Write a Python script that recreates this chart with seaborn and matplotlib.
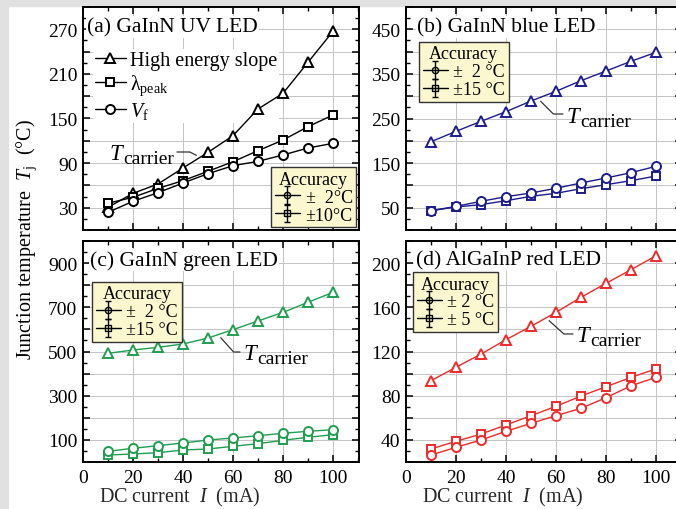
import numpy as np
import matplotlib
matplotlib.use("Agg")
import matplotlib.pyplot as plt
import seaborn as sns
from matplotlib.lines import Line2D
from matplotlib.collections import LineCollection
from matplotlib.container import ErrorbarContainer
from matplotlib.patches import Rectangle
from matplotlib.ticker import MultipleLocator, FuncFormatter
from matplotlib.transforms import offset_copy

# ---- data: junction temperature (°C) vs DC current (mA) ----
current = [10, 20, 30, 40, 50, 60, 70, 80, 90, 100]

uv_slope = [30.5, 49.3, 61.9, 83.4, 104.5, 126.9, 162.8, 183.9, 225.6, 267.3]
uv_peak = [36.0, 44.0, 56.0, 66.4, 79.0, 91.9, 106.7, 121.0, 139.0, 154.7]
uv_vf = [23.8, 38.6, 50.2, 63.2, 75.8, 86.5, 92.4, 100.9, 110.3, 116.6]

blue_carrier = [198.0, 221.2, 243.7, 265.3, 289.2, 311.0, 334.8, 356.5, 378.2, 398.4]
blue_vf = [43.3, 53.0, 64.3, 74.7, 83.0, 93.5, 105.4, 116.6, 128.5, 142.8]
blue_peak = [43.3, 51.6, 56.8, 65.7, 75.5, 82.3, 92.6, 101.6, 110.6, 121.0]

green_carrier = [491.8, 506.8, 519.0, 534.0, 561.0, 598.8, 638.0, 677.0, 722.6, 767.8]
green_vf = [48.3, 62.0, 73.8, 86.0, 99.5, 108.6, 119.0, 129.9, 138.9, 146.2]
green_peak = [31.7, 36.2, 42.2, 54.3, 58.8, 71.0, 82.8, 98.2, 111.8, 123.5]

red_carrier = [93.6, 105.7, 117.7, 130.7, 142.8, 155.5, 169.0, 181.7, 194.0, 206.7]
red_vf = [26.3, 33.3, 39.9, 47.8, 55.0, 61.9, 68.6, 78.2, 89.0, 96.6]
red_peak = [31.8, 38.7, 45.3, 53.5, 61.9, 70.4, 79.7, 88.1, 96.6, 104.2]

panel_titles = ["(a) GaInN UV LED", "(b) GaInN blue LED",
                "(c) GaInN green LED", "(d) AlGaInP red LED"]
uv_labels = ["High energy slope", "λ$_{\\rm peak}$", "$V_{\\rm f}$"]
accuracy_labels = [["±  2°C", "±10°C"], ["±  2 °C", "±15 °C"],
                   ["±  2 °C", "±15 °C"], ["± 2 °C", "± 5 °C"]]

# ---- style ----
sns.set_style("white")
plt.rcParams["font.family"] = ["Liberation Serif", "DejaVu Serif"]
plt.rcParams.update({
    "mathtext.fontset": "custom",
    "mathtext.rm": "Liberation Serif",
    "mathtext.it": "Liberation Serif:italic",
    "mathtext.bf": "Liberation Serif:bold",
    "xtick.direction": "in", "ytick.direction": "in",
    "xtick.top": True, "ytick.right": True,
    "xtick.bottom": True, "ytick.left": True,
    "xtick.major.size": 5, "ytick.major.size": 5,
    "xtick.minor.size": 3, "ytick.minor.size": 3,
    "xtick.major.width": 1.1, "ytick.major.width": 1.1,
    "xtick.minor.width": 1.0, "ytick.minor.width": 1.0,
    "axes.linewidth": 1.4,
    "axes.edgecolor": "black",
    "text.color": "black",
    "xtick.color": "black", "ytick.color": "black",
})

W, H = 676, 510
fig = plt.figure(figsize=(W / 100, H / 100), dpi=100)
fig.patch.set_facecolor("white")
grey = "#e1e1e1"
fig.add_artist(Rectangle((0, 0), 8 / W, 1, transform=fig.transFigure,
                         color=grey, zorder=-10))
fig.add_artist(Rectangle((0, 1 - 7 / H), 1, 7 / H, transform=fig.transFigure,
                         color=grey, zorder=-10))

# panel boxes in pixels: left, top, right, bottom
boxes = [(83, 8, 359, 231), (406, 8, 682, 231),
         (83, 242, 359, 463), (406, 242, 682, 463)]
axes = [fig.add_axes([l / W, 1 - b / H, (r - l) / W, (b - t) / H])
        for (l, t, r, b) in boxes]
ax_a, ax_b, ax_c, ax_d = axes


def frac(i, px, py):
    l, t, r, b = boxes[i]
    return (px - l) / (r - l), (b - py) / (b - t)


colors = ["black", "#1c1c8c", "#1f9e50", "#ee2a2a"]
series = [
    (uv_slope, uv_peak, uv_vf),
    (blue_carrier, blue_peak, blue_vf),
    (green_carrier, green_peak, green_vf),
    (red_carrier, red_peak, red_vf),
]
marker_size = {"^": 7.5, "s": 6.0, "o": 6.5}
# (ylim, tick step, first labelled tick, label step)
yscales = [((0, 300), 30, 30, 60), ((0, 500), 50, 50, 100),
           ((0, 1000), 100, 100, 200), ((20, 220), 20, 40, 40)]

FS = 14


def label_every(first, step):
    def fmt(v, pos):
        k = (v - first) / step
        if abs(k - round(k)) < 1e-6:
            return f"{v:g}"
        return ""
    return FuncFormatter(fmt)


for i, ax in enumerate(axes):
    col = colors[i]
    top_s, peak_s, vf_s = series[i]
    for vals, mk in ((top_s, "^"), (peak_s, "s"), (vf_s, "o")):
        sns.lineplot(x=current, y=vals, ax=ax, color=col, marker=mk,
                     markersize=marker_size[mk],
                     markerfacecolor="white", markeredgecolor=col,
                     markeredgewidth=1.4, linewidth=1.0, zorder=3)

    (ylo, yhi), ystep, yfirst, ylab = yscales[i]
    ax.set_xlim(0, 110.4)
    ax.set_ylim(ylo, yhi)
    ax.xaxis.set_major_locator(MultipleLocator(20))
    ax.xaxis.set_minor_locator(MultipleLocator(10))
    ax.yaxis.set_major_locator(MultipleLocator(ystep))
    ax.yaxis.set_minor_locator(MultipleLocator(ystep / 2))
    ax.yaxis.set_major_formatter(label_every(yfirst, ylab))
    ax.grid(True, which="major", color="#c4c4c4", linewidth=0.7, zorder=0)
    ax.set_axisbelow(True)
    ax.tick_params(labelsize=FS, pad=4)
    ax.tick_params(axis="x", pad=5)
    for s in ax.spines.values():
        s.set_linewidth(1.4)
        s.set_zorder(5)
    if i < 2:
        ax.tick_params(labelbottom=False)
    ax.set_xlabel("")
    ax.set_ylabel("")

# panel titles
title_pos = [(0.015, 0.910), (0.040, 0.910), (0.025, 0.914), (0.035, 0.914)]
for ax, t, (tx, ty) in zip(axes, panel_titles, title_pos):
    ax.text(tx, ty, t, transform=ax.transAxes, fontsize=FS + 1.5,
            ha="left", va="center", zorder=6,
            bbox=dict(facecolor="white", edgecolor="none", pad=1.0))

# method legend for the UV device (drawn under the data lines)
leg_a = ax_a.legend(handles=ax_a.lines[:3], labels=uv_labels,
                    loc="upper left", bbox_to_anchor=(0.035, 0.81),
                    borderaxespad=0, fontsize=FS + 0.5, frameon=True,
                    handlelength=1.55, handletextpad=0.2, labelspacing=0.12,
                    borderpad=0.1, fancybox=False)
leg_a.get_frame().set_facecolor("white")
leg_a.get_frame().set_edgecolor("none")
leg_a.get_frame().set_alpha(1)
leg_a.set_zorder(2.5)
ax_a.add_artist(leg_a)


def accuracy_handle(marker):
    line = Line2D([], [], color="black", marker=marker, markersize=4.5,
                  markerfacecolor="none", markeredgecolor="black",
                  markeredgewidth=1.0, linewidth=1.0)
    cap = Line2D([], [], color="black", marker="_", markersize=4,
                 linewidth=0)
    bars = LineCollection([], colors="black", linewidths=1.0)
    return ErrorbarContainer((line, (cap, cap), (bars,)),
                             has_xerr=False, has_yerr=True)


acc_place = [("lower right", (0.99, 0.012)), ("upper left", (0.047, 0.845)),
             ("upper left", (0.033, 0.815)), ("upper left", (0.025, 0.86))]
for ax, labs, (loc, anchor) in zip(axes, accuracy_labels, acc_place):
    leg = ax.legend(handles=[accuracy_handle("o"), accuracy_handle("s")],
                    labels=labs, title="Accuracy", loc=loc,
                    bbox_to_anchor=anchor, borderaxespad=0,
                    fontsize=FS - 1, title_fontsize=FS - 1,
                    handlelength=1.4, handletextpad=0.3, labelspacing=0.05,
                    borderpad=0.2, fancybox=False, framealpha=1)
    fr = leg.get_frame()
    fr.set_facecolor("#fbf8cf")
    fr.set_edgecolor("#333333")
    fr.set_linewidth(1.0)
    leg.set_zorder(7)

# carrier-temperature callouts:
# (curve, current at pointer, T left px, T baseline px, leader start px, angle)
callouts = [
    (uv_slope, 46.8, 109, 160, (177, 153), -28),
    (blue_carrier, 52.7, 566, 123, (563, 115), -45),
    (green_carrier, 54.0, 243, 360, (240, 353), -48),
    (red_carrier, 56.0, 576, 342, (573, 335), -42),
]
for i, (ax, (vals, at, tx, tb, start, ang)) in enumerate(zip(axes, callouts)):
    fx, fy = frac(i, tx, tb)
    ax.text(fx, fy, "$T$", transform=ax.transAxes, fontsize=FS + 2.5,
            ha="left", va="baseline", zorder=6)
    ax.text(fx, fy, "carrier", fontsize=FS,
            transform=offset_copy(ax.transAxes, fig, x=14, y=-4, units="dots"),
            ha="left", va="baseline", zorder=6)
    target = (at, float(np.interp(at, current, vals)))
    ax.annotate("", xy=target, xycoords="data",
                xytext=frac(i, *start), textcoords="axes fraction",
                zorder=6,
                arrowprops=dict(arrowstyle="-", color="#333333", lw=0.9,
                                shrinkA=0, shrinkB=3,
                                connectionstyle=f"angle,angleA=0,angleB={ang},rad=0"))

# axis labels
for ax in (ax_c, ax_d):
    ax.set_xlabel("DC current  $I$  (mA)", fontsize=FS + 0.5)
    ax.xaxis.set_label_coords(0.35, -0.105)
fig.text(27 / W, 1 - 240 / H, "Junction temperature  $T_{\\rm j}$  (°C)",
         rotation=90, ha="center", va="center", fontsize=FS + 0.5)

fig.savefig("out.png", dpi=100, facecolor=fig.get_facecolor())
